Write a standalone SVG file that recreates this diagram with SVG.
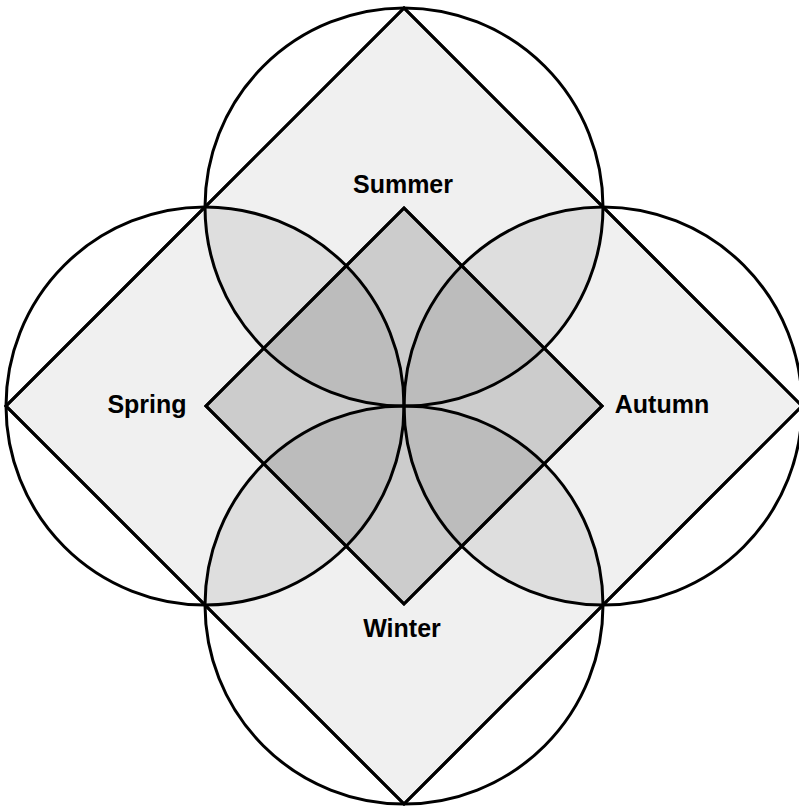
<svg xmlns="http://www.w3.org/2000/svg" width="799" height="809" viewBox="0 0 799 809">
<style>
.ln{stroke:#000;stroke-width:3;fill:none;stroke-linejoin:miter}
.lens{fill:#000;fill-opacity:0.075;stroke:none}
.lbl{font-family:"Liberation Sans",Arial,sans-serif;font-weight:bold;font-size:25px;text-anchor:middle;fill:#000}
</style>
<rect width="799" height="809" fill="#fff"/>
<g id="outer-diamond">
<polygon points="404,8 802,406 404,804 6,406" fill="#f0f0f0" class="ln" style="fill:#f0f0f0"/>
</g>
<g id="inner-diamond">
<polygon points="404,208 602,406 404,604 206,406" class="ln" style="fill:#cccccc"/>
</g>
<g id="lenses">
<path class="lens" d="M205,207 A199,199 0 0 0 404,406 A199,199 0 0 0 205,207 Z"/>
<path class="lens" d="M603,207 A199,199 0 0 1 404,406 A199,199 0 0 1 603,207 Z"/>
<path class="lens" d="M205,605 A199,199 0 0 1 404,406 A199,199 0 0 1 205,605 Z"/>
<path class="lens" d="M603,605 A199,199 0 0 0 404,406 A199,199 0 0 0 603,605 Z"/>
</g>
<g id="diamond-outlines">
<polygon points="404,8 802,406 404,804 6,406" class="ln"/>
<polygon points="404,208 602,406 404,604 206,406" class="ln"/>
</g>
<g id="circle-summer"><circle cx="404" cy="207" r="199" class="ln"/></g>
<g id="circle-spring"><circle cx="205" cy="406" r="199" class="ln"/></g>
<g id="circle-autumn"><circle cx="603" cy="406" r="199" class="ln"/></g>
<g id="circle-winter"><circle cx="404" cy="605" r="199" class="ln"/></g>
<g id="labels">
<text class="lbl" x="403" y="193">Summer</text>
<text class="lbl" x="147" y="413">Spring</text>
<text class="lbl" x="662" y="413">Autumn</text>
<text class="lbl" x="402" y="637">Winter</text>
</g>
</svg>
